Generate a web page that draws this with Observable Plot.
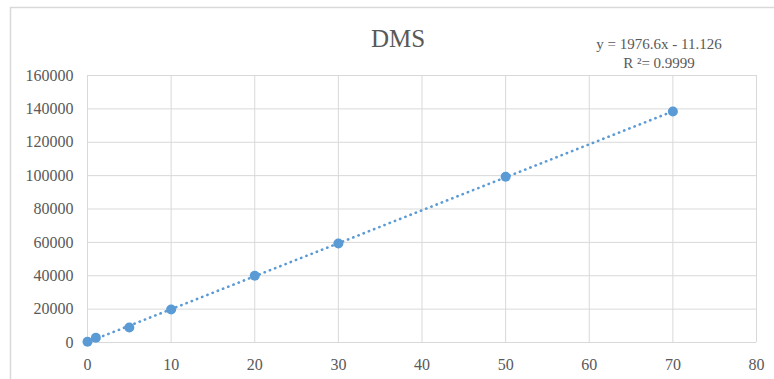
<!DOCTYPE html>
<html>
<head>
<meta charset="utf-8">
<script src="https://cdn.jsdelivr.net/npm/d3@7"></script>
<script src="https://cdn.jsdelivr.net/npm/@observablehq/plot@0.6"></script>
<style>
  html, body { margin: 0; padding: 0; background: #fff; }
  #chart svg, #chart svg g, #chart svg text, #chart svg tspan { font-family: "Liberation Serif", "Times New Roman", serif !important; }
</style>
</head>
<body>
<div id="chart"></div>
<script>
const title = "DMS";
const equationLines = "y = 1976.6x - 11.126\nR ²= 0.9999";
const concentration = [0, 1, 5, 10, 20, 30, 50, 70];
const response = [500, 2800, 9000, 19800, 40000, 59300, 99300, 138400];
const xTicks = [0, 10, 20, 30, 40, 50, 60, 70, 80];
const yTicks = [0, 20000, 40000, 60000, 80000, 100000, 120000, 140000, 160000];

const data = concentration.map((x, i) => ({x, y: response[i]}));
const blue = "#5B9BD5";
const grid = "#d9d9d9";
const serif = "Liberation Serif";

const chart = Plot.plot({
  width: 774,
  height: 379,
  marginLeft: 87,
  marginRight: 18,
  marginTop: 75,
  marginBottom: 37,
  style: "background: #fff; color: #595959;",
  x: {domain: [0, 80], label: null},
  y: {domain: [0, 160000], label: null},
  marks: [
    Plot.gridX(xTicks, {stroke: grid, strokeOpacity: 1, strokeWidth: 1}),
    Plot.gridY(yTicks, {stroke: grid, strokeOpacity: 1, strokeWidth: 1}),
    Plot.axisX(xTicks, {tickSize: 0, tickPadding: 16, tickFormat: d => String(d), fontSize: 16, fontFamily: serif}),
    Plot.axisY(yTicks, {tickSize: 0, tickPadding: 14, tickFormat: d => String(d), fontSize: 16, fontFamily: serif}),
    Plot.linearRegressionY(data, {x: "x", y: "y", ci: 0, stroke: blue, strokeWidth: 2.6, strokeLinecap: "round", strokeDasharray: "0.3 5.3"}),
    Plot.dot(data, {x: "x", y: "y", r: 5, fill: blue, stroke: "none"}),
    Plot.text([title], {frameAnchor: "top-left", dx: 310.5, dy: -29, textAnchor: "middle", lineAnchor: "bottom", fontSize: 25, fontFamily: serif, fill: "#595959"}),
    Plot.text([equationLines], {frameAnchor: "top-left", dx: 571.5, dy: -7.5, textAnchor: "middle", lineAnchor: "bottom", fontSize: 15, fontFamily: serif, lineHeight: 1.3, fill: "#595959"})
  ]
});

const svg = d3.select(chart);
function applySerif() {
  svg.attr("font-family", serif);
  svg.node().style.setProperty("font-family", serif, "important");
  svg.selectAll("g, text, tspan").each(function () {
    this.setAttribute("font-family", serif);
    this.style.setProperty("font-family", serif, "important");
  });
  svg.selectAll("text").attr("fill", "#595959");
}
applySerif();

svg.insert("rect", ":first-child")
  .attr("x", 10.5).attr("y", 7.5).attr("width", 800).attr("height", 400)
  .attr("fill", "none").attr("stroke", grid).attr("stroke-width", 1.5);

document.getElementById("chart").appendChild(chart);
requestAnimationFrame(applySerif);
setTimeout(applySerif, 0);
setTimeout(applySerif, 50);
</script>
</body>
</html>
